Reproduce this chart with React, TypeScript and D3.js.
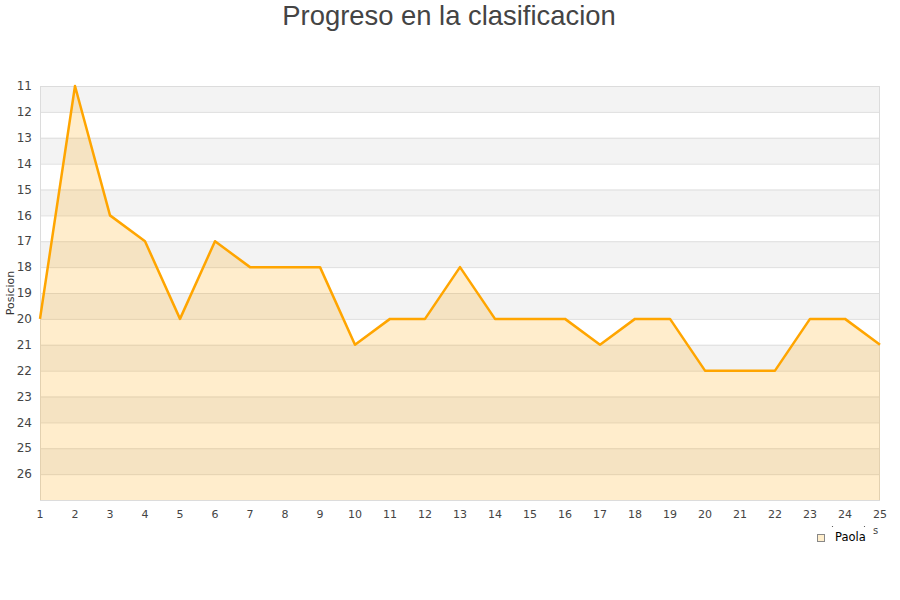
import { useMemo } from "react";
import * as d3 from "d3";

const JORNADAS = d3.range(1, 26);
const POSICIONES = [20, 11, 16, 17, 20, 17, 18, 18, 18, 21, 20, 20, 18, 20, 20, 20, 21, 20, 20, 22, 22, 22, 20, 20, 21];
const Y_TICKS = d3.range(11, 27);
const SERIES_NAME = "Paola";

const WIDTH = 900;
const HEIGHT = 600;
const PLOT = { left: 40, right: 880, top: 86, bottom: 500 };
const LINE_COLOR = "#ffa500";
const TEXT = "#444";
const FONT = "DejaVu Sans, sans-serif";

export default function App() {
  const x = useMemo(
    () => d3.scaleLinear().domain([1, 25]).range([PLOT.left, PLOT.right]),
    [],
  );
  const y = useMemo(
    () => d3.scaleLinear().domain([11, 27]).range([PLOT.top, PLOT.bottom]),
    [],
  );

  const data = JORNADAS.map((j, i) => ({ j, p: POSICIONES[i] }));

  const line = d3
    .line<{ j: number; p: number }>()
    .x((d) => x(d.j))
    .y((d) => y(d.p));
  const area = d3
    .area<{ j: number; p: number }>()
    .x((d) => x(d.j))
    .y0(y(27))
    .y1((d) => y(d.p));

  // bandas alternas
  const bands = d3.range(11, 27).filter((v) => (v - 11) % 2 === 0);

  return (
    <svg
      width={WIDTH}
      height={HEIGHT}
      style={{ position: "absolute", left: 0, top: 0, background: "#fff" }}
    >
      <text
        x={WIDTH / 2 - 1}
        y={25}
        textAnchor="middle"
        fontSize={27.4}
        fontFamily="Liberation Sans, Arial, sans-serif"
        fill={TEXT}
      >
        Progreso en la clasificacion
      </text>

      {bands.map((v) => (
        <rect
          key={v}
          x={PLOT.left}
          y={y(v)}
          width={PLOT.right - PLOT.left}
          height={y(v + 1) - y(v)}
          fill="#f3f3f3"
        />
      ))}
      {Y_TICKS.map((v) => (
        <line
          key={v}
          x1={PLOT.left}
          x2={PLOT.right}
          y1={y(v) + 0.5}
          y2={y(v) + 0.5}
          stroke="#dedede"
        />
      ))}
      <rect
        x={PLOT.left + 0.5}
        y={PLOT.top + 0.5}
        width={PLOT.right - PLOT.left - 1}
        height={PLOT.bottom - PLOT.top}
        fill="none"
        stroke="#dcdcdc"
      />

      <path d={area(data) ?? ""} fill="rgba(255,165,0,0.2)" />
      <path
        d={line(data) ?? ""}
        fill="none"
        stroke={LINE_COLOR}
        strokeWidth={2.5}
        strokeLinejoin="round"
      />

      {Y_TICKS.map((v) => (
        <text
          key={v}
          x={32}
          y={y(v)}
          dy="0.35em"
          textAnchor="end"
          fontSize={12}
          fontFamily={FONT}
          fill={TEXT}
        >
          {v}
        </text>
      ))}
      {JORNADAS.map((j) => (
        <text
          key={j}
          x={x(j)}
          y={518}
          textAnchor="middle"
          fontSize={11}
          fontFamily={FONT}
          fill={TEXT}
        >
          {j}
        </text>
      ))}

      <text
        transform={`translate(14,${(PLOT.top + PLOT.bottom) / 2}) rotate(-90)`}
        textAnchor="middle"
        fontSize={11}
        fontFamily={FONT}
        fill="#333"
      >
        Posicion
      </text>
      <text x={873} y={534} fontSize={10} fontFamily={FONT} fill={TEXT}>
        s
      </text>
      <circle cx={832.5} cy={526.5} r={0.6} fill={TEXT} />
      <circle cx={864.5} cy={526.5} r={0.6} fill={TEXT} />

      <rect x={817.5} y={534.5} width={7} height={7} fill="#ffeecc" stroke="#888" />
      <text x={835} y={541} fontSize={11.5} fontFamily={FONT} fill="#000">
        {SERIES_NAME}
      </text>
    </svg>
  );
}
